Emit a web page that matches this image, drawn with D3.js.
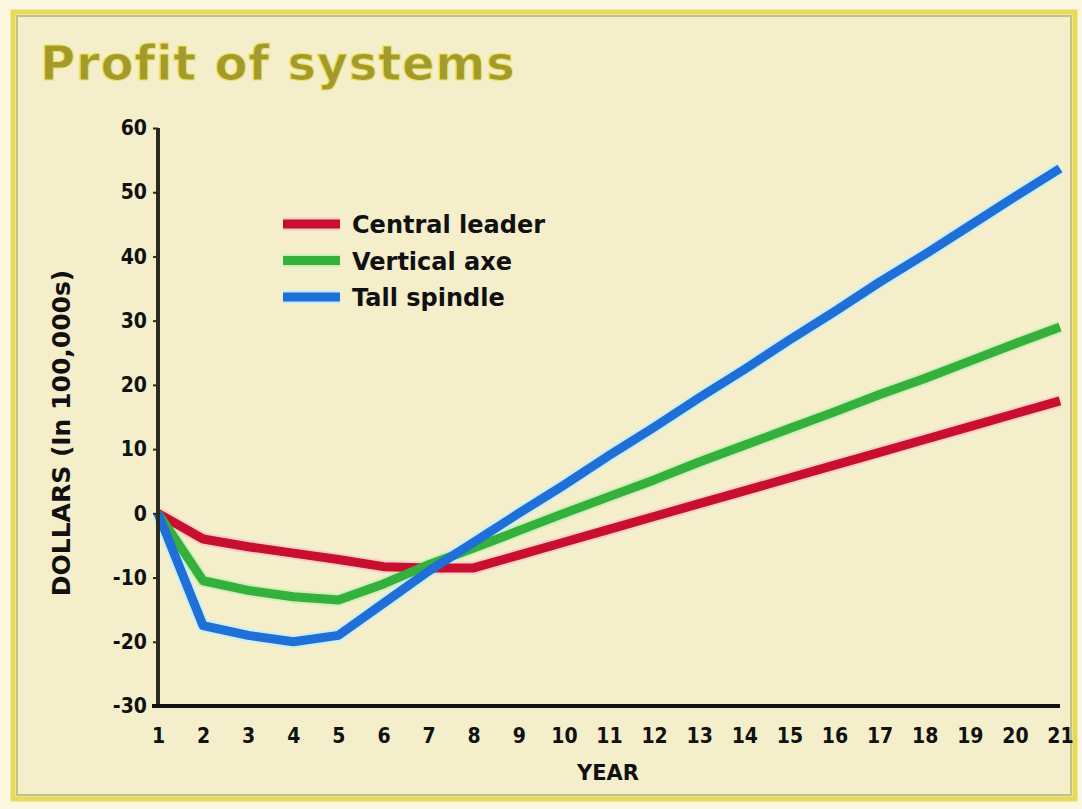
<!DOCTYPE html>
<html>
<head>
<meta charset="utf-8">
<script src="https://cdn.jsdelivr.net/npm/d3@7"></script>
<style>
  body { margin: 0; background: #fff; }
  svg { display: block; }
</style>
</head>
<body>
<svg id="chart"></svg>
<script>
// data
const years = [1, 2, 3, 4, 5, 6, 7, 8, 9, 10, 11, 12, 13, 14, 15, 16, 17, 18, 19, 20, 21]
const centralLeader = [0, -4, -5.2, -6.2, -7.2, -8.3, -8.5, -8.5, -6.5, -4.5, -2.5, -0.5, 1.5, 3.5, 5.5, 7.5, 9.5, 11.5, 13.5, 15.5, 17.5]
const verticalAxe = [0, -10.5, -12, -13, -13.5, -11, -8, -5.4, -2.7, 0, 2.6, 5.2, 8, 10.6, 13.2, 15.8, 18.5, 21, 23.7, 26.4, 29]
const tallSpindle = [0, -17.5, -19, -20, -19, -14, -9, -4.5, 0, 4.4, 9, 13.4, 18, 22.4, 27, 31.4, 36, 40.3, 44.8, 49.3, 53.7]
const yTicks = [60, 50, 40, 30, 20, 10, 0, -10, -20, -30]
const seriesNames = ["Central leader", "Vertical axe", "Tall spindle"]
const seriesColors = ["#c8102e", "#35b03c", "#1f6fd6"]

const full_width = 1082
const full_height = 809
const tick_font = "DejaVu Sans, sans-serif"

const svg = d3.select("#chart")
  .attr("width", full_width)
  .attr("height", full_height)

// background + frame
svg.append("rect")
  .attr("width", full_width).attr("height", full_height)
  .attr("fill", "#fbf7e0")
svg.append("rect")
  .attr("x", 13).attr("y", 12)
  .attr("width", full_width - 20).attr("height", full_height - 22)
  .attr("fill", "#f4eecb")
  .attr("stroke", "#e6da5a")
  .attr("stroke-width", 5)
svg.append("rect")
  .attr("x", 17).attr("y", 16)
  .attr("width", full_width - 28).attr("height", full_height - 30)
  .attr("fill", "none")
  .attr("stroke", "#b9b070")
  .attr("stroke-width", 1.5)

// title
svg.append("text")
  .attr("x", 40).attr("y", 80)
  .attr("font-family", "DejaVu Sans, sans-serif")
  .attr("font-weight", "bold")
  .attr("font-size", "48px")
  .attr("letter-spacing", "0.8px")
  .attr("fill", "#a29a2c")
  .attr("stroke", "#efe45a")
  .attr("stroke-width", 1)
  .text("Profit of systems")

const x0 = 158, x1 = 1060
const yTop = 128, yBottom = 706

const x = d3.scaleLinear().domain([1, 21]).range([x0, x1])
const y = d3.scaleLinear().domain([-30, 60]).range([yBottom, yTop])

// lines
const line = d3.line()
  .x((d, i) => x(years[i]))
  .y(d => y(d))

const allSeries = [centralLeader, verticalAxe, tallSpindle]
const halos = ["#f7c8cc", "#c8f0b0", "#bfefff"]

const plot = svg.append("g")
allSeries.forEach((s, i) => {
  plot.append("path")
    .attr("d", line(s))
    .attr("fill", "none")
    .attr("stroke", halos[i])
    .attr("stroke-width", 13)
    .attr("stroke-linejoin", "round")
    .attr("opacity", 0.8)
})
allSeries.forEach((s, i) => {
  plot.append("path")
    .attr("d", line(s))
    .attr("fill", "none")
    .attr("stroke", seriesColors[i])
    .attr("stroke-width", 9)
    .attr("stroke-linejoin", "round")
})

// y axis (hyphen minus like the original)
const yaxis = d3.axisLeft(y).tickValues(yTicks).tickSize(5).tickPadding(6)
  .tickFormat(d => String(d))
const gy = svg.append("g")
  .attr("transform", `translate(${x0}, 0)`)
  .call(yaxis)
gy.select(".domain").attr("stroke", "#2b2a1c").attr("stroke-width", 4)
  .attr("d", `M0,${yTop}V${yBottom}`)
gy.selectAll(".tick line").attr("stroke", "#2b2a1c").attr("stroke-width", 2)
gy.selectAll(".tick text")
  .attr("font-family", tick_font)
  .attr("font-stretch", "condensed")
  .attr("font-weight", "bold")
  .attr("font-size", "21px")
  .attr("fill", "#111")

// x axis
const xaxis = d3.axisBottom(x).tickValues(years).tickSize(0).tickPadding(22)
const gx = svg.append("g")
  .attr("transform", `translate(0, ${yBottom})`)
  .call(xaxis)
gx.select(".domain").attr("stroke", "#111").attr("stroke-width", 4)
  .attr("d", `M${x0 - 6},0H${x1}`)
gx.selectAll(".tick text")
  .attr("font-family", tick_font)
  .attr("font-stretch", "condensed")
  .attr("font-weight", "bold")
  .attr("font-size", "21px")
  .attr("fill", "#111")

// axis titles
svg.append("text")
  .attr("x", 608).attr("y", 780)
  .attr("text-anchor", "middle")
  .attr("font-family", "DejaVu Sans, sans-serif")
  .attr("font-weight", "bold")
  .attr("font-size", "21px")
  .attr("fill", "#111")
  .text("YEAR")

svg.append("text")
  .attr("transform", `translate(70, 433) rotate(-90)`)
  .attr("text-anchor", "middle")
  .attr("font-family", "DejaVu Sans, sans-serif")
  .attr("font-weight", "bold")
  .attr("font-size", "25px")
  .attr("fill", "#111")
  .text("DOLLARS (In 100,000s)")

// legend
const legend = svg.append("g").attr("transform", "translate(283, 224)")
seriesNames.forEach((name, i) => {
  const row = legend.append("g").attr("transform", `translate(0, ${i * 36.5})`)
  row.append("line")
    .attr("x1", 0).attr("x2", 57)
    .attr("stroke", halos[i]).attr("stroke-width", 13)
  row.append("line")
    .attr("x1", 0).attr("x2", 57)
    .attr("stroke", seriesColors[i]).attr("stroke-width", 9)
  row.append("text")
    .attr("x", 69).attr("y", 9)
    .attr("font-family", "DejaVu Sans, sans-serif")
    .attr("font-weight", "bold")
    .attr("font-size", "24px")
    .attr("fill", "#111")
    .text(name)
})
</script>
</body>
</html>
